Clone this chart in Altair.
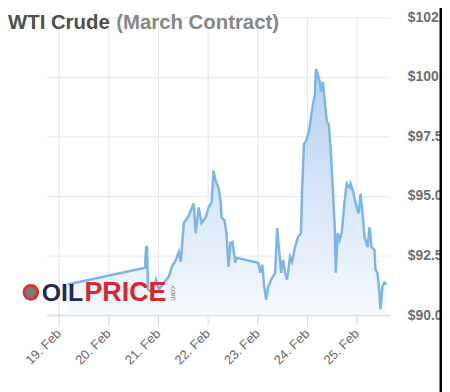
import altair as alt
import pandas as pd

# ---- data ----
days = [19.18, 20.74, 20.76, 20.78, 20.80, 20.90, 20.96, 21.02, 21.12, 21.22,
        21.28, 21.36, 21.42, 21.46, 21.52, 21.56, 21.62, 21.72, 21.76, 21.82,
        21.88, 21.96, 22.02, 22.08, 22.12, 22.16, 22.22, 22.26, 22.28, 22.34,
        22.38, 22.42, 22.46, 22.50, 22.56, 22.58, 23.02, 23.06, 23.10, 23.14,
        23.18, 23.22, 23.28, 23.36, 23.40, 23.44, 23.48, 23.52, 23.56, 23.60,
        23.66, 23.70, 23.76, 23.82, 23.88, 23.90, 23.94, 23.98, 24.04, 24.08,
        24.12, 24.16, 24.18, 24.22, 24.26, 24.28, 24.32, 24.36, 24.40, 24.44,
        24.48, 24.52, 24.56, 24.58, 24.62, 24.66, 24.70, 24.76, 24.80, 24.86,
        24.88, 24.94, 24.98, 25.04, 25.08, 25.12, 25.16, 25.22, 25.26, 25.30,
        25.36, 25.38, 25.42, 25.46, 25.48, 25.52, 25.56, 25.60]
prices = [91.29, 91.99, 92.86, 92.86, 91.08, 90.95, 91.49, 91.08, 91.37, 91.62,
          92.03, 92.32, 92.66, 92.24, 93.86, 93.98, 94.19, 94.69, 93.44, 94.52,
          93.86, 94.11, 94.52, 94.73, 96.06, 95.64, 95.35, 94.81, 94.11, 93.98,
          93.44, 92.03, 93.03, 93.07, 92.20, 92.41, 92.20, 91.78, 92.12, 91.20,
          90.66, 91.20, 91.49, 91.78, 93.65, 92.74, 91.78, 92.32, 91.78, 91.49,
          92.45, 92.24, 92.86, 93.28, 93.44, 95.10, 97.18, 97.30, 97.72, 98.26,
          98.84, 99.25, 100.33, 100.08, 99.79, 99.38, 99.79, 98.96, 98.13, 98.01,
          96.89, 95.35, 93.69, 91.78, 93.44, 93.15, 93.44, 94.81, 95.52, 95.35,
          95.52, 95.10, 94.69, 94.27, 95.10, 94.27, 93.28, 92.86, 93.69, 92.86,
          92.74, 91.91, 91.78, 90.95, 90.25, 91.20, 91.37, 91.29]

x_ticks = [19, 20, 21, 22, 23, 24, 25]
y_ticks = [90, 92.5, 95, 97.5, 100, 102.5]
title_main = "WTI Crude"
title_sub = "(March Contract)"
logo_a = "OIL"
logo_b = "PRICE"
logo_c = ".com"

df = pd.DataFrame({"day": days, "price": prices})

FONT = "Liberation Sans"

x_enc = alt.X(
    "day:Q",
    scale=alt.Scale(domain=[18.76, 25.66], nice=False, zero=False),
    axis=alt.Axis(
        values=x_ticks,
        labelExpr="datum.value + '. Feb'",
        labelAngle=-45,
        labelAlign="right",
        labelBaseline="middle",
        labelFontSize=13,
        labelColor="#6a6a6a",
        labelFont=FONT,
        labelPadding=6,
        tickSize=10,
        tickColor="#ccd6eb",
        domainColor="#ccd6eb",
        gridColor="#e6e6e6",
        title=None,
    ),
)
y_enc = alt.Y(
    "price:Q",
    scale=alt.Scale(domain=[90, 102.5], nice=False, zero=False),
    axis=alt.Axis(
        orient="right",
        values=y_ticks,
        labelExpr="'$' + format(datum.value, '.1f')",
        labelFontSize=14,
        labelFontWeight="bold",
        labelColor="#6e6e6e",
        labelFont=FONT,
        labelAlign="left",
        labelPadding=18,
        tickSize=0,
        domain=False,
        gridColor="#e6e6e6",
        title=None,
    ),
)

gradient = alt.Gradient(
    gradient="linear",
    stops=[
        alt.GradientStop(color="#f7fafe", offset=0),
        alt.GradientStop(color="#b4d1ef", offset=1),
    ],
    x1=1, x2=1, y1=1, y2=0,
)

area = alt.Chart(df).mark_area(color=gradient).encode(
    x=x_enc, y=y_enc, y2=alt.datum(90)
)
line = alt.Chart(df).mark_line(color="#7cb5ec", strokeWidth=2.5).encode(
    x="day:Q", y="price:Q"
)


def txt(s, x, y, **kw):
    return alt.Chart(pd.DataFrame({"t": [s]})).mark_text(font=FONT, **kw).encode(
        x=alt.value(x), y=alt.value(y), text="t:N"
    )


t1 = txt(title_main, -39, 12, fontSize=20.5, fontWeight="bold", color="#4f4f4f",
         align="left", baseline="alphabetic")
t2 = txt(title_sub, 70, 12, fontSize=20.5, fontWeight="bold", color="#878787",
         align="left", baseline="alphabetic")

l1 = txt(logo_a, -5, 286, fontSize=25, fontWeight="bold", color="#1f2a55",
         align="left", baseline="alphabetic")
l2 = txt(logo_b, 38, 286, fontSize=27, fontWeight="bold", color="#d9262f",
         align="left", baseline="alphabetic")
l3 = txt(logo_c, 127, 277, fontSize=8, color="#777777", angle=90,
         align="center", baseline="middle")
circ = alt.Chart(pd.DataFrame({"t": [0]})).mark_point(
    shape="circle", filled=True, fill="#7a7a7a", stroke="#d9312b",
    strokeWidth=3, size=190, opacity=1
).encode(x=alt.value(-16), y=alt.value(277))

border = alt.Chart(pd.DataFrame({"t": [0]})).mark_rule(
    color="#000000", strokeWidth=3
).encode(x=alt.value(397), y=alt.value(-10), y2=alt.value(380))

chart = alt.layer(area, line, t1, t2, l1, l2, l3, circ, border).properties(
    width=345,
    height=300,
    autosize=alt.AutoSizeParams(type="none"),
    padding={"left": 39, "top": 8, "right": 53, "bottom": 76},
).configure_view(stroke=None)

chart.save("out.html", embed_options={"renderer": "svg", "actions": False})
